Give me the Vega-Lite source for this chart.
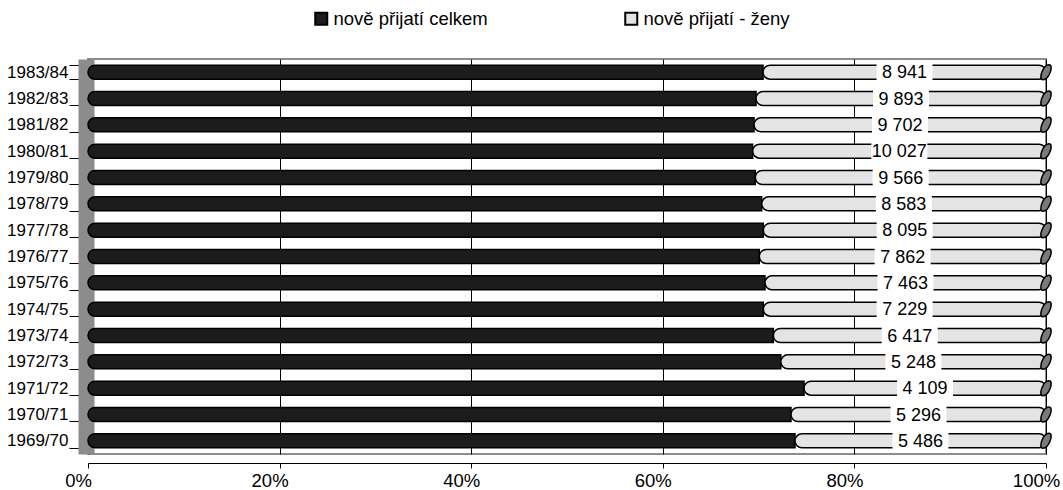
{
  "$schema": "https://vega.github.io/schema/vega-lite/v6.json",
  "width": 958,
  "height": 395,
  "autosize": {"type": "none"},
  "padding": {"left": 88, "top": 59, "right": 17, "bottom": 36},
  "background": "white",
  "config": {
    "view": {"stroke": "#8c8c8c", "strokeWidth": 2},
    "font": "Liberation Sans",
    "legend": {
      "orient": "none",
      "legendX": 224,
      "legendY": -50,
      "direction": "horizontal",
      "labelFontSize": 18.5,
      "labelColor": "black",
      "labelFont": "Liberation Sans",
      "symbolType": "square",
      "symbolSize": 144,
      "symbolStrokeColor": "black",
      "symbolStrokeWidth": 2,
      "columnPadding": 133,
      "labelOffset": 3
    }
  },
  "data": {
    "values": [
      {"rok": "1969/70", "serie": "nově přijatí celkem", "poradi": 1, "pocet": 15450, "popisek": ""},
      {"rok": "1969/70", "serie": "nově přijatí - ženy", "poradi": 2, "pocet": 5486, "popisek": "5 486"},
      {"rok": "1970/71", "serie": "nově přijatí celkem", "poradi": 1, "pocet": 14600, "popisek": ""},
      {"rok": "1970/71", "serie": "nově přijatí - ženy", "poradi": 2, "pocet": 5296, "popisek": "5 296"},
      {"rok": "1971/72", "serie": "nově přijatí celkem", "poradi": 1, "pocet": 12160, "popisek": ""},
      {"rok": "1971/72", "serie": "nově přijatí - ženy", "poradi": 2, "pocet": 4109, "popisek": "4 109"},
      {"rok": "1972/73", "serie": "nově přijatí celkem", "poradi": 1, "pocet": 13710, "popisek": ""},
      {"rok": "1972/73", "serie": "nově přijatí - ženy", "poradi": 2, "pocet": 5248, "popisek": "5 248"},
      {"rok": "1973/74", "serie": "nově přijatí celkem", "poradi": 1, "pocet": 16130, "popisek": ""},
      {"rok": "1973/74", "serie": "nově přijatí - ženy", "poradi": 2, "pocet": 6417, "popisek": "6 417"},
      {"rok": "1974/75", "serie": "nově přijatí celkem", "poradi": 1, "pocet": 17270, "popisek": ""},
      {"rok": "1974/75", "serie": "nově přijatí - ženy", "poradi": 2, "pocet": 7229, "popisek": "7 229"},
      {"rok": "1975/76", "serie": "nově přijatí celkem", "poradi": 1, "pocet": 17980, "popisek": ""},
      {"rok": "1975/76", "serie": "nově přijatí - ženy", "poradi": 2, "pocet": 7463, "popisek": "7 463"},
      {"rok": "1976/77", "serie": "nově přijatí celkem", "poradi": 1, "pocet": 18410, "popisek": ""},
      {"rok": "1976/77", "serie": "nově přijatí - ženy", "poradi": 2, "pocet": 7862, "popisek": "7 862"},
      {"rok": "1977/78", "serie": "nově přijatí celkem", "poradi": 1, "pocet": 19340, "popisek": ""},
      {"rok": "1977/78", "serie": "nově přijatí - ženy", "poradi": 2, "pocet": 8095, "popisek": "8 095"},
      {"rok": "1978/79", "serie": "nově přijatí celkem", "poradi": 1, "pocet": 20340, "popisek": ""},
      {"rok": "1978/79", "serie": "nově přijatí - ženy", "poradi": 2, "pocet": 8583, "popisek": "8 583"},
      {"rok": "1979/80", "serie": "nově přijatí celkem", "poradi": 1, "pocet": 21960, "popisek": ""},
      {"rok": "1979/80", "serie": "nově přijatí - ženy", "poradi": 2, "pocet": 9566, "popisek": "9 566"},
      {"rok": "1980/81", "serie": "nově přijatí celkem", "poradi": 1, "pocet": 22720, "popisek": ""},
      {"rok": "1980/81", "serie": "nově přijatí - ženy", "poradi": 2, "pocet": 10027, "popisek": "10 027"},
      {"rok": "1981/82", "serie": "nově přijatí celkem", "poradi": 1, "pocet": 22130, "popisek": ""},
      {"rok": "1981/82", "serie": "nově přijatí - ženy", "poradi": 2, "pocet": 9702, "popisek": "9 702"},
      {"rok": "1982/83", "serie": "nově přijatí celkem", "poradi": 1, "pocet": 22790, "popisek": ""},
      {"rok": "1982/83", "serie": "nově přijatí - ženy", "poradi": 2, "pocet": 9893, "popisek": "9 893"},
      {"rok": "1983/84", "serie": "nově přijatí celkem", "poradi": 1, "pocet": 21330, "popisek": ""},
      {"rok": "1983/84", "serie": "nově přijatí - ženy", "poradi": 2, "pocet": 8941, "popisek": "8 941"}
    ]
  },
  "encoding": {
    "y": {
      "field": "rok",
      "type": "nominal",
      "sort": "descending",
      "scale": {"paddingInner": 0.47, "paddingOuter": 0.235},
      "axis": {
        "title": null,
        "labelFontSize": 17,
        "labelColor": "black",
        "labelFont": "Liberation Sans",
        "domainColor": "#8c8c8c",
        "domainWidth": 16,
        "offset": 2,
        "tickBand": "extent",
        "tickColor": "black",
        "tickSize": 17,
        "labelPadding": 1
      }
    }
  },
  "layer": [
    {
      "transform": [
        {"stack": "pocet", "groupby": ["rok"], "sort": [{"field": "poradi", "order": "ascending"}], "offset": "normalize", "as": ["x0", "x1"]},
        {"filter": "datum.poradi == 1"}
      ],
      "mark": {"type": "bar", "stroke": "black", "strokeWidth": 1.5, "cornerRadiusTopLeft": 7, "cornerRadiusBottomLeft": 7},
      "encoding": {
        "x": {
          "field": "x0",
          "type": "quantitative",
          "scale": {"domain": [0, 1], "nice": false},
          "axis": {
            "title": null,
            "format": ".0%",
            "values": [0, 0.2, 0.4, 0.6, 0.8, 1],
            "labelFontSize": 18.5,
            "labelColor": "black",
            "labelFont": "Liberation Sans",
            "labelFlush": false,
            "offset": 9,
            "domainColor": "black",
            "tickColor": "black",
            "tickSize": 5,
            "labelOffset": -10,
            "labelPadding": 3,
            "grid": true,
            "gridColor": "black",
            "gridOpacity": 1
          }
        },
        "x2": {"field": "x1"},
        "color": {
          "field": "serie",
          "type": "nominal",
          "scale": {"domain": ["nově přijatí celkem", "nově přijatí - ženy"], "range": ["#1c1c1c", "#e4e4e4"]},
          "legend": {"title": null}
        }
      }
    },
    {
      "transform": [
        {"stack": "pocet", "groupby": ["rok"], "sort": [{"field": "poradi", "order": "ascending"}], "offset": "normalize", "as": ["x0", "x1"]},
        {"filter": "datum.poradi == 2"}
      ],
      "mark": {"type": "bar", "stroke": "black", "strokeWidth": 1.5, "cornerRadius": 7},
      "encoding": {
        "x": {"field": "x0", "type": "quantitative"},
        "x2": {"field": "x1"},
        "color": {"field": "serie", "type": "nominal"}
      }
    },
    {
      "transform": [
        {"stack": "pocet", "groupby": ["rok"], "sort": [{"field": "poradi", "order": "ascending"}], "offset": "normalize", "as": ["x0", "x1"]},
        {"filter": "datum.poradi == 2"}
      ],
      "mark": {"type": "point", "shape": "M0.4,-1C1.1,-1 0.4,1 -0.4,1C-1.1,1 -0.4,-1 0.4,-1Z", "size": 225, "filled": true, "fill": "#7a7a7a", "stroke": "black", "strokeWidth": 1.5, "opacity": 1},
      "encoding": {
        "x": {"field": "x1", "type": "quantitative"}
      }
    },
    {
      "mark": {"type": "point", "shape": "M-1,-0.31H1V0.31H-1Z", "size": 3136, "filled": true, "fill": "white", "strokeWidth": 0, "opacity": 1},
      "encoding": {
        "x": {"field": "pocet", "type": "quantitative", "stack": "normalize", "bandPosition": 0.5},
        "detail": {"field": "serie"},
        "order": {"field": "poradi", "sort": "ascending"},
        "opacity": {"condition": {"test": "datum.poradi == 2", "value": 1}, "value": 0}
      }
    },
    {
      "mark": {"type": "text", "fontSize": 18, "fill": "black", "font": "Liberation Sans", "baseline": "middle", "dy": 1},
      "encoding": {
        "x": {"field": "pocet", "type": "quantitative", "stack": "normalize", "bandPosition": 0.5},
        "detail": {"field": "serie"},
        "order": {"field": "poradi", "sort": "ascending"},
        "text": {"field": "popisek"}
      }
    }
  ]
}
